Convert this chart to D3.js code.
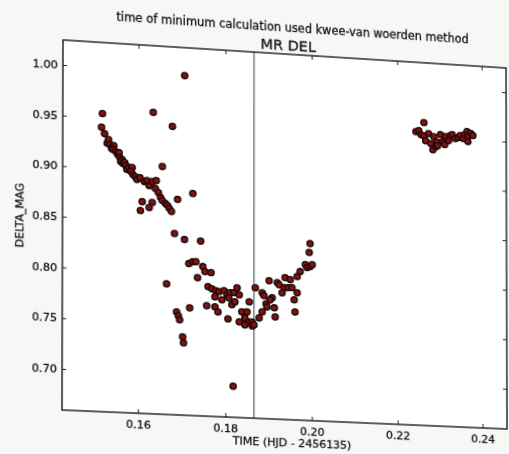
<!DOCTYPE html>
<html>
<head>
<meta charset="utf-8">
<script src="https://cdn.jsdelivr.net/npm/d3@7"></script>
<style>
  html, body { margin: 0; padding: 0; background: #f7f7f5; width: 509px; height: 454px; overflow: hidden; }
  #chart { position: absolute; left: 0; top: 0; transform-origin: 0 0; }
  text { font-family: "DejaVu Sans", sans-serif; fill: #141414; stroke: #141414; stroke-width: 0.3px; }
</style>
</head>
<body>
<svg id="chart" width="509" height="454"></svg>
<script>
// ---------------- data ----------------
const suptitleText = "time of minimum calculation used kwee-van woerden method";
const titleText = "MR DEL";
const xLabelText = "TIME (HJD - 2456135)";
const yLabelText = "DELTA_MAG";
const xTicks = [0.16, 0.18, 0.20, 0.22, 0.24];
const yTicks = [0.70, 0.75, 0.80, 0.85, 0.90, 0.95, 1.00];
const xDomain = [0.1428, 0.2458];
const yDomain = [0.6595, 1.0247];
const minimumTime = 0.1866;

const time = [
  0.1518,0.1516,0.1523,0.1529,0.1532,0.1535,0.1544,0.1539,0.1542,0.1549,
  0.1553,0.1556,0.1558,0.1563,0.1560,0.1565,0.1569,0.1572,0.1574,0.1579,
  0.1586,0.1583,0.1588,0.1593,0.1597,0.1604,0.1614,0.1620,0.1625,0.1632,
  0.1641,0.1639,0.1646,0.1651,0.1655,0.1662,0.1667,0.1671,0.1676,0.1609,
  0.1605,0.1625,0.1632,0.1634,0.1678,0.1706,0.1655,0.1690,0.1725,0.1683,
  0.1706,0.1743,0.1665,0.1688,0.1692,0.1695,0.1702,0.1704,0.1718,0.1818,
  0.1716,0.1725,0.1732,0.1748,0.1753,0.1767,0.1736,0.1760,0.1769,0.1778,
  0.1785,0.1797,0.1804,0.1811,0.1820,0.1827,0.1832,0.1776,0.1792,0.1808,
  0.1815,0.1822,0.1855,0.1757,0.1776,0.1783,0.1806,0.1838,0.1845,0.1855,
  0.1832,0.1845,0.1862,0.1850,0.1862,0.1866,
  0.1869,0.1885,0.1889,0.1894,0.1901,0.1908,0.1896,0.1913,0.1885,0.1915,
  0.1878,0.1903,0.1920,0.1924,0.1938,0.1950,0.1936,0.1945,0.1931,0.1954,
  0.1966,0.1959,0.1961,0.1966,0.1973,0.1985,0.1989,0.1996,0.2001,0.1994,0.1996,
  0.2244,0.2251,0.2256,0.2263,0.2263,0.2267,0.2274,0.2279,0.2284,0.2286,
  0.2291,0.2293,0.2295,0.2302,0.2307,0.2312,0.2314,0.2321,0.2325,0.2330,
  0.2337,0.2344,0.2349,0.2356,0.2360,0.2365,0.2367,0.2367,0.2374,0.2379
];
const deltaMag = [
  0.9541,0.9406,0.9344,0.9251,0.9287,0.9238,0.9230,0.9200,0.9190,0.9172,
  0.9144,0.9164,0.9115,0.9096,0.9076,0.9057,0.9068,0.9039,0.9000,0.9021,
  0.9023,0.8983,0.8954,0.8935,0.8907,0.8928,0.8891,0.8902,0.8854,0.8895,
  0.8908,0.8828,0.8789,0.8741,0.8712,0.8684,0.8665,0.8637,0.8608,0.8691,
  0.8601,0.8635,0.8687,0.9582,0.9454,0.9969,0.9050,0.8731,0.8799,0.8391,
  0.8336,0.8330,0.7889,0.7615,0.7577,0.7537,0.7369,0.7310,0.7661,0.6903,
  0.8099,0.8121,0.8123,0.8077,0.8028,0.8021,0.7964,0.7880,0.7862,0.7844,
  0.7835,0.7848,0.7809,0.7831,0.7833,0.7884,0.7815,0.7783,0.7757,0.7780,
  0.7712,0.7743,0.7750,0.7690,0.7684,0.7635,0.7570,0.7647,0.7588,0.7550,
  0.7545,0.7518,0.7511,0.7649,0.7551,0.7523,
  0.7893,0.7847,0.7818,0.7738,0.7970,0.7802,0.7709,0.7702,0.7656,0.7612,
  0.7595,0.7780,0.7954,0.7935,0.8009,0.7991,0.7908,0.7910,0.7857,0.7912,
  0.7864,0.7792,0.7672,0.8025,0.8077,0.8149,0.8120,0.8132,0.8153,0.8272,0.8363,
  0.9546,0.9558,0.9518,0.9642,0.9510,0.9461,0.9534,0.9434,0.9374,0.9506,
  0.9406,0.9458,0.9418,0.9531,0.9461,0.9432,0.9514,0.9475,0.9527,0.9539,
  0.9500,0.9512,0.9534,0.9505,0.9547,0.9579,0.9529,0.9478,0.9561,0.9542
];

// ---------------- layout ----------------
const plot = { left: 63, top: 40, right: 507, bottom: 410 };
const svg = d3.select("#chart");

const x = d3.scaleLinear().domain(xDomain).range([plot.left, plot.right]);
const y = d3.scaleLinear().domain(yDomain).range([plot.bottom, plot.top]);

svg.append("rect")
  .attr("x", plot.left).attr("y", plot.top)
  .attr("width", plot.right - plot.left).attr("height", plot.bottom - plot.top)
  .attr("fill", "#ffffff");

// axes with inward ticks
const tickLen = 4;
const gB = svg.append("g").attr("transform", `translate(0,${plot.bottom})`)
  .call(d3.axisBottom(x).tickValues(xTicks).tickSizeInner(-tickLen).tickSizeOuter(0).tickPadding(7).tickFormat(d3.format(".2f")));
const gT = svg.append("g").attr("transform", `translate(0,${plot.top})`)
  .call(d3.axisTop(x).tickValues(xTicks).tickSizeInner(-tickLen).tickSizeOuter(0).tickFormat(""));
const gL = svg.append("g").attr("transform", `translate(${plot.left},0)`)
  .call(d3.axisLeft(y).tickValues(yTicks).tickSizeInner(-tickLen).tickSizeOuter(0).tickPadding(5).tickFormat(d3.format(".2f")));
const gR = svg.append("g").attr("transform", `translate(${plot.right},0)`)
  .call(d3.axisRight(y).tickValues(yTicks).tickSizeInner(-tickLen).tickSizeOuter(0).tickFormat(""));
[gB, gT, gL, gR].forEach(g => {
  g.select(".domain").remove();
  g.selectAll(".tick line").attr("stroke", "#222").attr("stroke-width", 1);
  g.selectAll(".tick text").attr("font-size", 11).attr("fill", "#141414")
    .attr("font-family", "DejaVu Sans, sans-serif");
});

// vertical line at time of minimum
svg.append("line")
  .attr("x1", x(minimumTime)).attr("x2", x(minimumTime))
  .attr("y1", plot.top).attr("y2", plot.bottom)
  .attr("stroke", "#4a4a55").attr("stroke-width", 1.1);

// points
const pts = time.map((t, i) => ({ t, m: deltaMag[i] }));
svg.append("g").selectAll("circle").data(pts).join("circle")
  .attr("cx", d => x(d.t)).attr("cy", d => y(d.m))
  .attr("r", 3.1)
  .attr("fill", "#8a0f0f")
  .attr("stroke", "#120a0a").attr("stroke-width", 1.3);

// frame
svg.append("rect")
  .attr("x", plot.left).attr("y", plot.top)
  .attr("width", plot.right - plot.left).attr("height", plot.bottom - plot.top)
  .attr("fill", "none").attr("stroke", "#1a1a1a").attr("stroke-width", 1.4);

// texts
svg.append("text").attr("x", (plot.left + plot.right) / 2 + 1).attr("y", plot.top - 4)
  .attr("text-anchor", "middle").attr("font-size", 14.5).text(titleText);
svg.append("text").attr("x", 292).attr("y", 17)
  .attr("text-anchor", "middle").attr("font-size", 11.4).text(suptitleText);
svg.append("text").attr("x", 290).attr("y", plot.bottom + 27)
  .attr("text-anchor", "middle").attr("font-size", 11).text(xLabelText);
svg.append("text")
  .attr("transform", `translate(25,${(plot.top + plot.bottom) / 2 - 7}) rotate(-90)`)
  .attr("text-anchor", "middle").attr("font-size", 11).text(yLabelText);

// ---------------- photo perspective (homography on the whole drawing) ----------------
function solve(A, b) {
  const n = b.length;
  const M = A.map((row, i) => row.concat([b[i]]));
  for (let c = 0; c < n; c++) {
    let p = c;
    for (let r = c + 1; r < n; r++) if (Math.abs(M[r][c]) > Math.abs(M[p][c])) p = r;
    [M[c], M[p]] = [M[p], M[c]];
    for (let r = 0; r < n; r++) {
      if (r === c) continue;
      const f = M[r][c] / M[c][c];
      for (let k = c; k <= n; k++) M[r][k] -= f * M[c][k];
    }
  }
  return M.map((row, i) => row[n] / row[i]);
}
const src = [[plot.left, plot.top], [plot.right, plot.top], [plot.left, plot.bottom], [plot.right, plot.bottom]];
const dst = [[63, 40], [506, 68], [62, 410], [507, 429]];
const A = [], bb = [];
src.forEach(([sx, sy], i) => {
  const [u, v] = dst[i];
  A.push([sx, sy, 1, 0, 0, 0, -u * sx, -u * sy]); bb.push(u);
  A.push([0, 0, 0, sx, sy, 1, -v * sx, -v * sy]); bb.push(v);
});
const h = solve(A, bb);
document.getElementById("chart").style.transform =
  `matrix3d(${h[0]},${h[3]},0,${h[6]},${h[1]},${h[4]},0,${h[7]},0,0,1,0,${h[2]},${h[5]},0,1)`;
</script>
</body>
</html>
